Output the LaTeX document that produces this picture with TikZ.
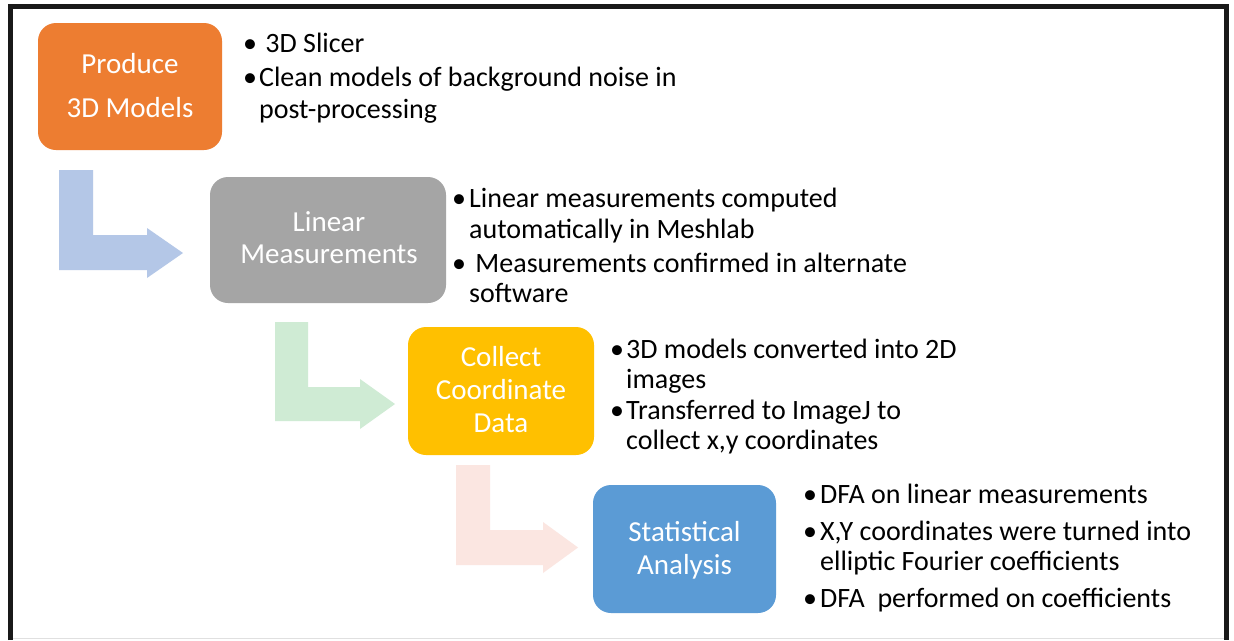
\documentclass[tikz,border=0pt]{standalone}
\usepackage{fontspec}
\setmainfont{Carlito}
\definecolor{orangeC}{HTML}{ED7D31}
\definecolor{grayC}{HTML}{A5A5A5}
\definecolor{yellowC}{HTML}{FFC000}
\definecolor{blueC}{HTML}{5B9BD5}
\definecolor{arrA}{HTML}{B4C7E7}
\definecolor{arrB}{HTML}{CFEBD4}
\definecolor{arrC}{HTML}{FBE6E1}
\begin{document}
\begin{tikzpicture}[x=1pt,y=-1pt,
  stagebox/.style={draw=none, text=white, align=center, inner sep=0pt, font=\fontsize{29}{33}\selectfont},
  listtext/.style={anchor=base west, inner sep=0pt, font=\fontsize{28}{30}\selectfont},
]
\useasboundingbox (0,0) rectangle (1234,640);
\fill[white] (0,0) rectangle (1234,640);
% frame
\draw[line width=0.8pt, black!12] (10,638.5) -- (1227,638.5);
\draw[line width=4.5pt, black!90] (10.5,640) -- (10.5,6.5) -- (1226.5,6.5) -- (1226.5,640);

% bent arrows
\fill[arrA] (59,170) -- (93,170) -- (93,235) -- (147,235) -- (147,228) -- (183,253) -- (147,278) -- (147,270) -- (59,270) -- cycle;
\fill[arrB] (275,322) -- (308,322) -- (308,387) -- (360,387) -- (360,379) -- (395,404) -- (360,429) -- (360,421) -- (275,421) -- cycle;
\fill[arrC] (456,465) -- (490,465) -- (490,530) -- (543,530) -- (543,522) -- (578,547.5) -- (543,573) -- (543,565) -- (456,565) -- cycle;

% boxes
\path[fill=orangeC, rounded corners=18pt] (38,23) rectangle (222,150);
\node[stagebox, font=\fontsize{29}{44}\selectfont] (b1) at (130,86) {Produce\\3D Models};
\path[fill=grayC, rounded corners=18pt] (210,177) rectangle (446,303);
\node[stagebox, font=\fontsize{29}{32}\selectfont] (b2) at (329,238) {Linear\\Measurements};
\path[fill=yellowC, rounded corners=18pt] (408,327) rectangle (594,455);
\node[stagebox] (b3) at (501,390) {Collect\\Coordinate\\Data};
\path[fill=blueC, rounded corners=18pt] (593,485) rectangle (776,613);
\node[stagebox] (b4) at (684.5,550) {Statistical\\Analysis};

% lists
\node[listtext] (t1) at (243,52) {\begin{tabular}[t]{@{}l@{\hspace{2pt}}l@{}}
\textbullet & \ 3D Slicer\\[4pt]
\textbullet & Clean models of background noise in\\[2pt]
 & post-processing
\end{tabular}};
\node[listtext] (t2) at (452,207) {\begin{tabular}[t]{@{}l@{\hspace{3pt}}l@{}}
\textbullet & Linear measurements computed\\[1pt]
 & automatically in Meshlab\\[4pt]
\textbullet & \ Measurements confirmed in alternate\\
 & software
\end{tabular}};
\node[listtext] (t3) at (610,358) {\begin{tabular}[t]{@{}l@{\hspace{2pt}}l@{}}
\textbullet & 3D models converted into 2D\\
 & images\\[1pt]
\textbullet & Transferred to ImageJ to\\
 & collect x,y coordinates
\end{tabular}};
\node[listtext] (t4) at (803,503) {\begin{tabular}[t]{@{}l@{\hspace{3pt}}l@{}}
\textbullet & DFA on linear measurements\\[7pt]
\textbullet & X,Y coordinates were turned into\\
 & elliptic Fourier coefficients\\[7pt]
\textbullet & DFA\ \ performed on coefficients
\end{tabular}};
\end{tikzpicture}
\end{document}
